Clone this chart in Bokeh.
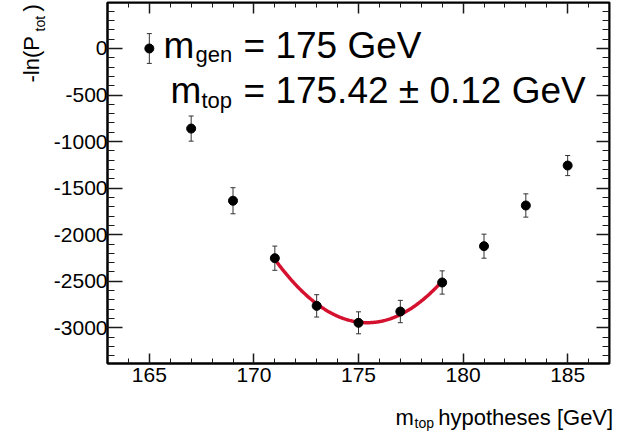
import numpy as np
from bokeh.plotting import figure
from bokeh.models import (LinearAxis, SingleIntervalTicker, Label, Whisker,
                          ColumnDataSource, TeeHead, Range1d, CustomJSTickFormatter)
from bokeh.embed import file_html
from bokeh.resources import INLINE

# ---------------- data ----------------
masses = [165, 167, 169, 171, 173, 175, 177, 179, 181, 183, 185]
neg_log_p = [0, -860, -1635, -2252, -2764, -2946, -2825, -2513, -2123, -1686, -1257]
errors = [160, 135, 140, 130, 120, 118, 120, 125, 129, 125, 108]
fit_window = [171, 179]

x_tick_interval = 5
y_tick_interval = 500

gen_sub = "gen"
gen_text = "= 175 GeV"
top_sub = "top"
fit_text = "= 175.42 \u00b1 0.12 GeV"
NB = "\u00a0"
xlabel_main = "m" + NB * 4 + "hypotheses [GeV]"
xlabel_sub = "top"
ylabel_main = "-ln(P" + NB * 4 + ")"
ylabel_sub = "tot"

FONT = "Liberation Sans"

# ---------------- layout ----------------
W, H = 630, 432
BL, BR, BT, BB = 107, 21, 2, 69
X0, X1 = 163, 187
Y0, Y1 = -3383, 494
FW = W - BL - BR
FH = H - BT - BB


def px_x(page_x):
    return round(X0 + (page_x - BL) * (X1 - X0) / FW, 4)


def px_y(page_y):
    return round(Y1 - (page_y - BT) * (Y1 - Y0) / FH, 4)


p = figure(width=W, height=H, x_range=Range1d(X0, X1), y_range=Range1d(Y0, Y1),
           output_backend="svg", toolbar_location=None,
           min_border_left=BL, min_border_right=BR, min_border_top=BT,
           min_border_bottom=BB)
p.xgrid.visible = False
p.ygrid.visible = False
p.outline_line_color = "black"
p.outline_line_width = 2
p.background_fill_color = "white"
p.border_fill_color = "white"

plain_fmt = CustomJSTickFormatter(code="return tick.toFixed(0)")
empty_fmt = CustomJSTickFormatter(code="return ''")


def style_axis(ax, major, minor, labels=True):
    ax.major_tick_in = major
    ax.major_tick_out = 0
    ax.minor_tick_in = minor
    ax.minor_tick_out = 0
    ax.axis_line_color = "black"
    ax.axis_line_width = 2
    ax.major_tick_line_color = "#1a1a1a"
    ax.minor_tick_line_color = "#1a1a1a"
    ax.major_tick_line_width = 1.5
    ax.minor_tick_line_width = 1
    if labels:
        ax.formatter = plain_fmt
        ax.major_label_text_font = FONT
        ax.major_label_text_font_size = "21px"
        ax.major_label_text_color = "black"
    else:
        ax.formatter = empty_fmt
        ax.major_label_standoff = 0


p.xaxis.ticker = SingleIntervalTicker(interval=x_tick_interval, num_minor_ticks=5)
p.yaxis.ticker = SingleIntervalTicker(interval=y_tick_interval, num_minor_ticks=5)
style_axis(p.xaxis[0], 10, 5)
style_axis(p.yaxis[0], 15, 7)
p.xaxis.major_label_standoff = 4
p.yaxis.major_label_standoff = 0

top_ax = LinearAxis(fixed_location=Y1,
                    ticker=SingleIntervalTicker(interval=x_tick_interval, num_minor_ticks=5))
style_axis(top_ax, 11, 5, labels=False)
p.add_layout(top_ax, "above")
right_ax = LinearAxis(fixed_location=X1,
                      ticker=SingleIntervalTicker(interval=y_tick_interval, num_minor_ticks=5))
style_axis(right_ax, 13, 7, labels=False)
p.add_layout(right_ax, "right")

# ---------------- data marks ----------------
m_arr = np.array(masses, dtype=float)
v_arr = np.array(neg_log_p, dtype=float)
e_arr = np.array(errors, dtype=float)
src = ColumnDataSource(dict(x=m_arr, y=v_arr, upper=v_arr + e_arr, lower=v_arr - e_arr))

whisk = Whisker(source=src, base="x", upper="upper", lower="lower",
                line_color="#333333", line_width=1,
                upper_head=TeeHead(size=5, line_color="#333333", line_width=1),
                lower_head=TeeHead(size=5, line_color="#333333", line_width=1))
p.add_layout(whisk)

# parabola fit to the points in the fit window
sel = (m_arr >= fit_window[0]) & (m_arr <= fit_window[1])
coef = np.polyfit(m_arr[sel], v_arr[sel], 2)
fx = np.linspace(fit_window[0], fit_window[1], 200)
fy = np.polyval(coef, fx)
p.line(fx, fy, line_color="#d4112e", line_width=3.5)

p.scatter("x", "y", source=src, size=9, fill_color="black", line_color="black")


# ---------------- texts ----------------
def label(text, page_x, page_y, size, angle=0.0, place=None):
    lab = Label(x=px_x(page_x), y=px_y(page_y), text=text,
                text_font=FONT, text_font_size=f"{size}px",
                text_color="black", text_align="left",
                text_baseline="alphabetic", angle=angle)
    if place is None:
        p.add_layout(lab)
    else:
        p.add_layout(lab, place)


# annotation inside the frame
label("m", 163, 45, 37)
label(gen_sub, 195, 54, 22)
label(gen_text, 243, 45, 37)
label("m", 170, 90, 37)
label(top_sub, 201, 100, 22)
label(fit_text, 243, 90, 37)

# axis titles live in the side panels (so they are not clipped by the frame)
label(xlabel_main, 395, 417, 22, place="below")
label(xlabel_sub, 414, 422, 14, place="below")
rot = np.pi / 2
label(ylabel_main, 31, 82, 22, angle=rot, place="left")
label(ylabel_sub, 40, 31, 14, angle=rot, place="left")

open("out.html", "w").write(file_html(p, INLINE))
